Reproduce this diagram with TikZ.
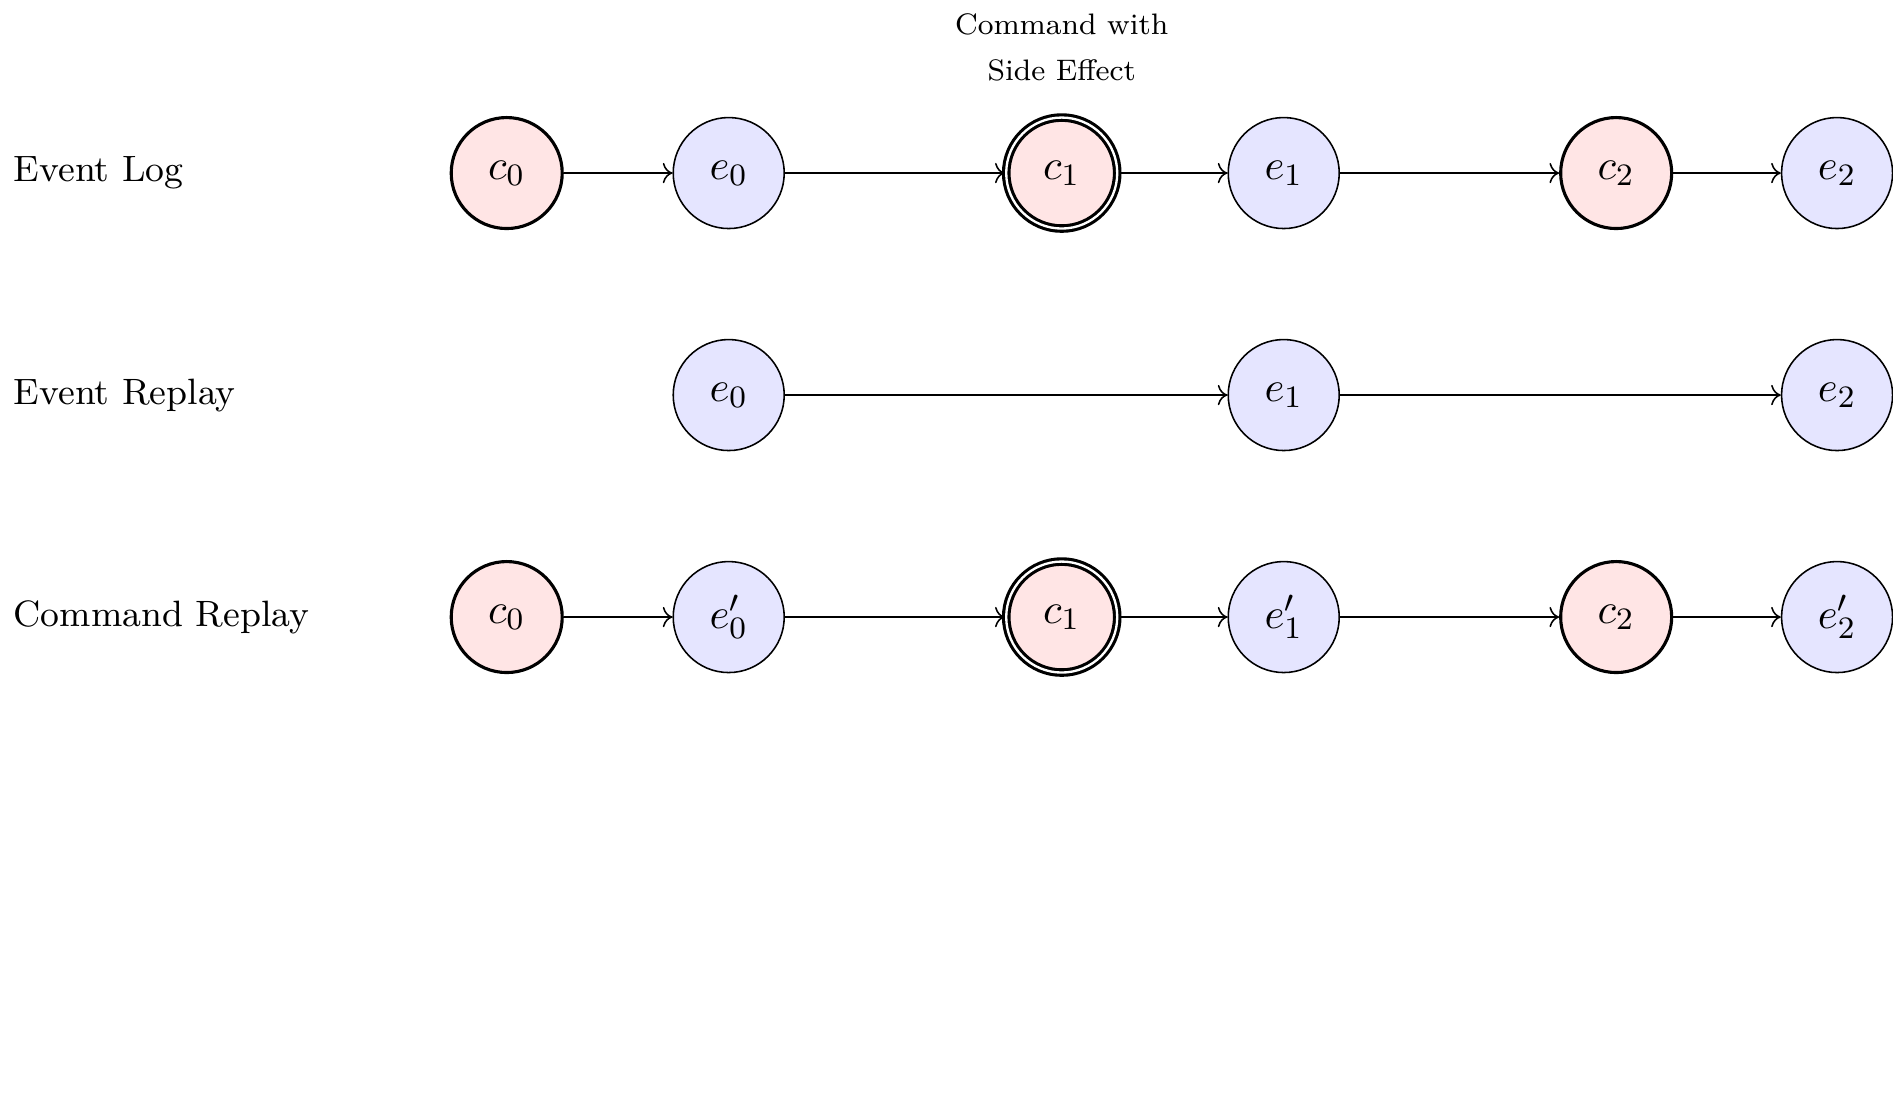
\documentclass[tikz,border=0pt]{standalone}
\usetikzlibrary{arrows.meta,positioning}
\tikzset{
  cmd/.style={circle, draw, thick, fill=red!10, minimum size=1cm, inner sep=0pt, font=\fontsize{11}{13.5}\selectfont},
  sidecmd/.style={cmd, double, double distance=0.6pt},
  evt/.style={circle, draw, thin, fill=blue!10, minimum size=1cm, inner sep=0pt, font=\fontsize{11}{13.5}\selectfont},
  rowlabel/.style={anchor=west, font=\fontsize{9.4}{11.5}\selectfont},
  flow/.style={->, thin},
}
\begin{document}
\begin{tikzpicture}
\useasboundingbox (0,1.559) rectangle (17.054,-8.45);
% row labels
\node[rowlabel] (l1) at (0,0) {Event Log};
\node[rowlabel] (l2) at (0,-2) {Event Replay};
\node[rowlabel] (l3) at (0,-4) {Command Replay};
% row 1
\node[cmd] (a0) at (4.565,0) {$c_0$};
\node[evt] (b0) at (6.565,0) {$e_0$};
\node[sidecmd] (a1) at (9.565,0) {$c_1$};
\node[evt] (b1) at (11.565,0) {$e_1$};
\node[cmd] (a2) at (14.56,0) {$c_2$};
\node[evt] (b2) at (16.55,0) {$e_2$};
\node[anchor=south, align=center, font=\fontsize{7.6}{9.2}\selectfont] (note) at ([yshift=0.703cm]a1.center) {Command with\\[2.6pt]Side Effect};
\draw[flow] (a0) -- (b0);
\draw[flow] (b0) -- (a1);
\draw[flow] (a1) -- (b1);
\draw[flow] (b1) -- (a2);
\draw[flow] (a2) -- (b2);
% row 2
\node[evt] (r0) at (6.565,-2) {$e_0$};
\node[evt] (r1) at (11.565,-2) {$e_1$};
\node[evt] (r2) at (16.55,-2) {$e_2$};
\draw[flow] (r0) -- (r1);
\draw[flow] (r1) -- (r2);
% row 3
\node[cmd] (x0) at (4.565,-4) {$c_0$};
\node[evt] (y0) at (6.565,-4) {$e'_0$};
\node[sidecmd] (x1) at (9.565,-4) {$c_1$};
\node[evt] (y1) at (11.565,-4) {$e'_1$};
\node[cmd] (x2) at (14.56,-4) {$c_2$};
\node[evt] (y2) at (16.55,-4) {$e'_2$};
\draw[flow] (x0) -- (y0);
\draw[flow] (y0) -- (x1);
\draw[flow] (x1) -- (y1);
\draw[flow] (y1) -- (x2);
\draw[flow] (x2) -- (y2);
\end{tikzpicture}
\end{document}
